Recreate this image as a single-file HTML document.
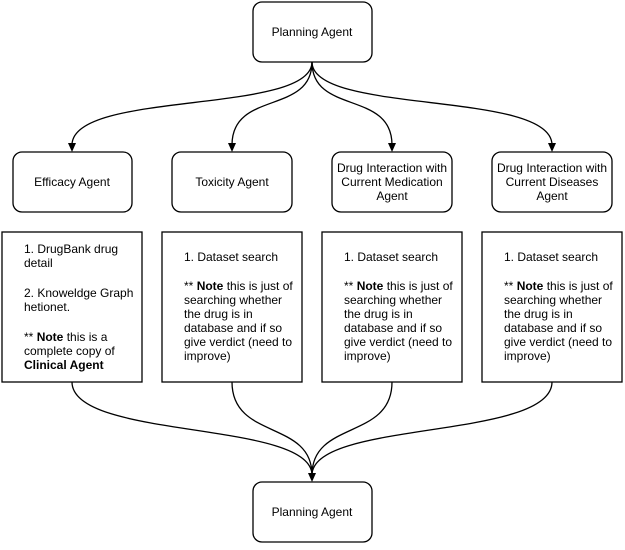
<!DOCTYPE html>
<html><head><style>
body{margin:0;width:625px;height:545px;background:#fff;overflow:hidden}
svg text{font-family:"Liberation Sans",Arial,sans-serif;font-size:12px;fill:#000}
</style></head><body>
<svg width="625" height="545" xmlns="http://www.w3.org/2000/svg">
<defs><marker id="a" markerWidth="8" markerHeight="8" refX="4" refY="7" orient="auto" markerUnits="userSpaceOnUse"><path d="M0,0 L4,8 L8,0 L4,3 Z" fill="#000" transform="rotate(0)"/></marker></defs>
<g fill="none" stroke="#000" stroke-width="1.3">
<rect x="253" y="2" width="119" height="60" rx="9"/>
<rect x="13" y="152" width="119" height="60" rx="9"/>
<rect x="172" y="152" width="120" height="60" rx="9"/>
<rect x="332" y="152" width="120" height="60" rx="9"/>
<rect x="492" y="152" width="120" height="60" rx="9"/>
<rect x="2" y="232" width="140" height="150"/>
<rect x="162" y="232" width="140" height="150"/>
<rect x="322" y="232" width="140" height="150"/>
<rect x="482" y="232" width="140" height="150"/>
<rect x="253" y="482" width="119" height="60" rx="9"/>
<path d="M312,62 C312,115 72,90 72,145"/>
<path d="M312,62 C312,115 232,90 232,145"/>
<path d="M312,62 C312,115 392,90 392,145"/>
<path d="M312,62 C312,115 552,90 552,145"/>
<path d="M72,382 C72,440 312,420 312,475"/>
<path d="M232,382 C232,440 312,420 312,475"/>
<path d="M392,382 C392,440 312,420 312,475"/>
<path d="M552,382 C552,440 312,420 312,475"/>
</g>
<g fill="#000">
<path d="M68,143 L76,143 L72,152 Z"/>
<path d="M228,143 L236,143 L232,152 Z"/>
<path d="M388,143 L396,143 L392,152 Z"/>
<path d="M548,143 L556,143 L552,152 Z"/>
<path d="M308,473 L316,473 L312,482 Z"/>
</g>
<g text-anchor="middle">
<text x="312" y="36">Planning Agent</text>
<text x="72" y="186">Efficacy Agent</text>
<text x="232" y="186">Toxicity Agent</text>
<text x="392" y="172">Drug Interaction with</text>
<text x="392" y="186">Current Medication</text>
<text x="392" y="200">Agent</text>
<text x="552" y="172">Drug Interaction with</text>
<text x="552" y="186">Current Diseases</text>
<text x="552" y="200">Agent</text>
<text x="312" y="516">Planning Agent</text>
</g>
<g>
<text x="24" y="253">1. DrugBank drug</text>
<text x="24" y="267">detail</text>
<text x="24" y="297">2. Knoweldge Graph</text>
<text x="24" y="311">hetionet.</text>
<text x="24" y="341">** <tspan font-weight="bold">Note</tspan> this is a</text>
<text x="24" y="355">complete copy of</text>
<text x="24" y="369" font-weight="bold">Clinical Agent</text>
</g>
<g id="t">
<text x="184" y="261">1. Dataset search</text>
<text x="184" y="290">** <tspan font-weight="bold">Note</tspan> this is just of</text>
<text x="184" y="304">searching whether</text>
<text x="184" y="318">the drug is in</text>
<text x="184" y="332">database and if so</text>
<text x="184" y="346">give verdict (need to</text>
<text x="184" y="360">improve)</text>
</g>
<use href="#t" x="160"/>
<use href="#t" x="320"/>
</svg>
</body></html>
